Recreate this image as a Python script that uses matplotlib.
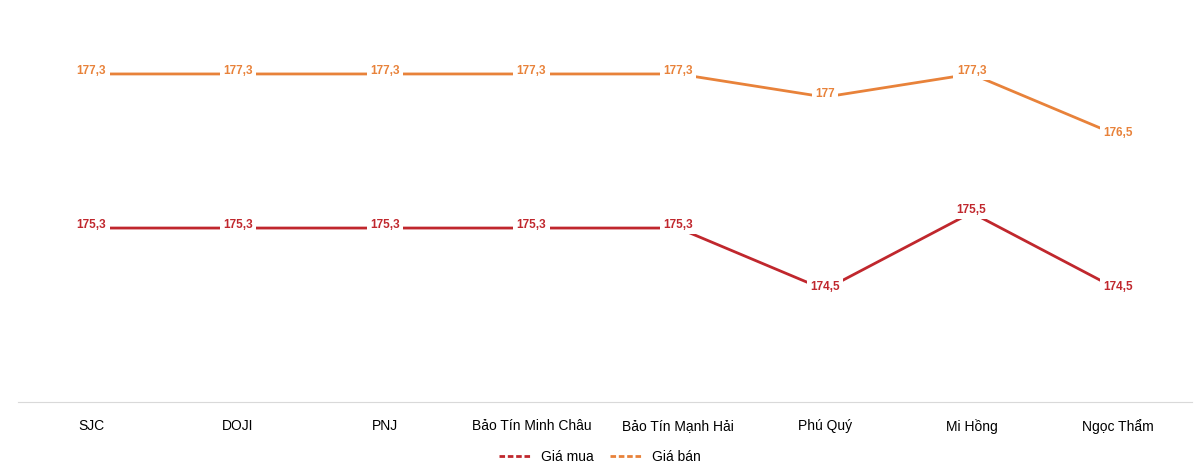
import matplotlib
matplotlib.use("Agg")
import matplotlib.pyplot as plt

categories = ["SJC", "DOJI", "PNJ", "Bảo Tín Minh Châu", "Bảo Tín Mạnh Hải", "Phú Quý", "Mi Hồng", "Ngọc Thẩm"]
gia_mua = [175.3, 175.3, 175.3, 175.3, 175.3, 174.5, 175.5, 174.5]
gia_ban = [177.3, 177.3, 177.3, 177.3, 177.3, 177.0, 177.3, 176.5]

plt.rcParams['font.family'] = ['Liberation Sans', 'DejaVu Sans']
fig = plt.figure(figsize=(12, 4.72), dpi=100)
ax = fig.add_axes([0.015, 0.148, 0.978, 0.852])
x = list(range(len(categories)))
c_mua, c_ban = "#C0272D", "#E8823A"
ax.plot(x, gia_mua, color=c_mua, lw=2, label="Giá mua")
ax.plot(x, gia_ban, color=c_ban, lw=2, label="Giá bán")

def fmt(v):
    s = f"{v:.1f}".replace(".", ",")
    return s[:-2] if s.endswith(",0") else s

for xs, ys, c in [(x, gia_mua, c_mua), (x, gia_ban, c_ban)]:
    for xi, yi in zip(xs, ys):
        ax.text(xi, yi + 0.04, fmt(yi), ha="center", va="center", color=c, fontsize=8.5,
                fontweight="bold", bbox=dict(facecolor="white", edgecolor="none", pad=2.5))

ax.set_xlim(-0.5, len(categories) - 0.5)
ax.set_ylim(173.04, 178.26)
ax.set_xticks(x)
ax.set_xticklabels(categories, fontsize=10)
ax.tick_params(axis="x", length=0, pad=12)
ax.set_yticks([])
for s in ["top", "right", "left"]:
    ax.spines[s].set_visible(False)
ax.spines["bottom"].set_color("#D9D9D9")
fig.legend(loc="lower center", ncol=2, frameon=False, fontsize=10, bbox_to_anchor=(0.5, -0.01),
           handlelength=2.2, columnspacing=1.2)
# dashed-look legend handles
leg = fig.legends[0]
for h in leg.get_lines():
    h.set_linestyle((0, (2, 1)))
fig.savefig("out.png", dpi=100)
